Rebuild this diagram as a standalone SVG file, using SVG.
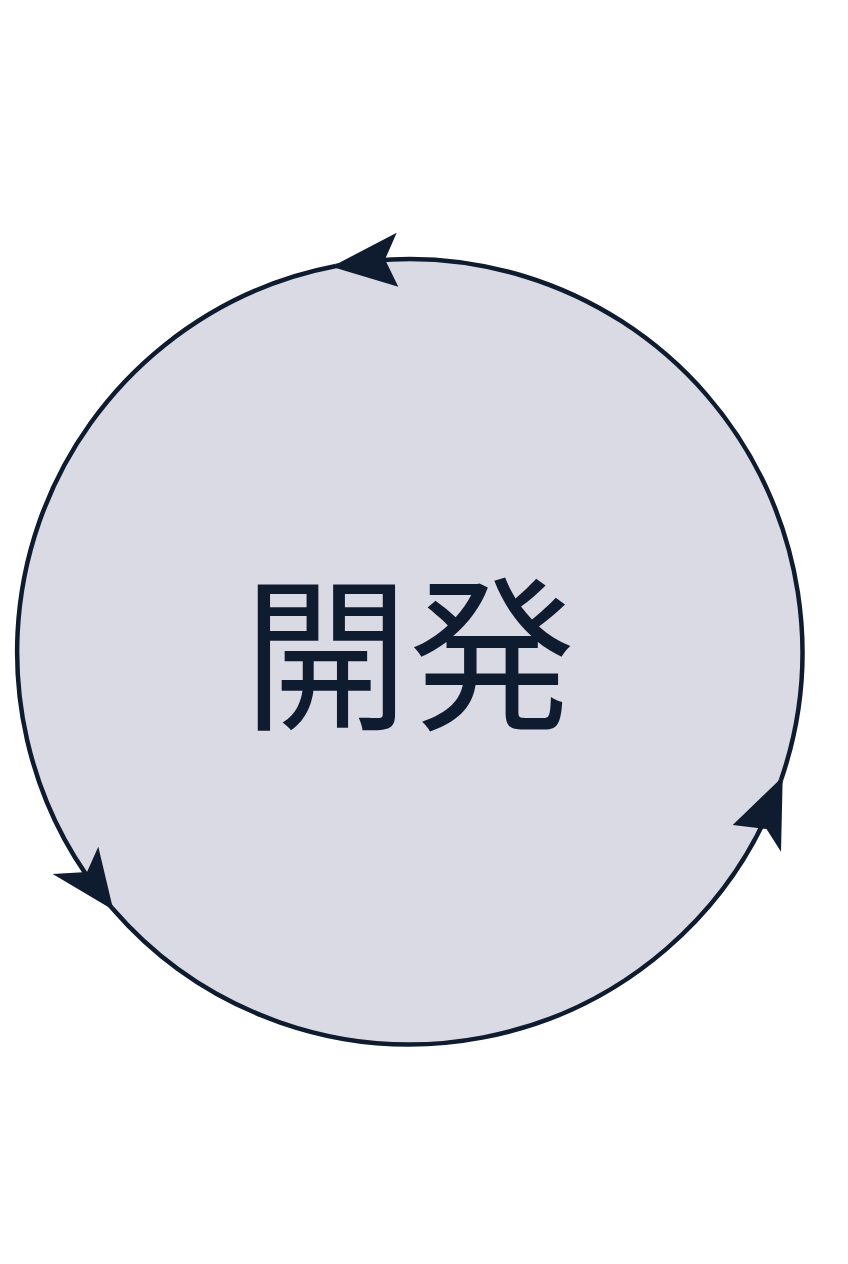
<svg xmlns="http://www.w3.org/2000/svg" width="848" height="1264" viewBox="0 0 848 1264">
<style>
.arc{fill:none;stroke:#0f1b2f;stroke-width:4.5}
.head{fill:#0f1b2f}
.lbl{font-family:"Noto Sans CJK JP","Noto Sans CJK SC",sans-serif;font-size:166px;fill:#0f1b2f;text-anchor:middle;dominant-baseline:central}
</style>
<rect width="848" height="1264" fill="#ffffff"/>
<g id="node-dev">
<circle cx="410" cy="652" r="393" fill="#dadae4"/>
<text class="lbl" x="409" y="644">開発</text>
</g>
<g id="connectors">
<path class="arc" d="M112 908 A393 393 0 0 0 781 780"/>
<path class="arc" d="M781 780 A393 393 0 0 0 336 266"/>
<path class="arc" d="M336 266 A393 393 0 0 0 112 908"/>
<polygon class="head" points="331.7,266.7 396.7,232.7 385,259.5 398.3,286.7"/>
<polygon class="head" points="782.7,776.7 781,851.7 766.5,829 732.7,825"/>
<polygon class="head" points="113.3,910 52.7,874 87,872 98.3,846.7"/>
</g>
</svg>
